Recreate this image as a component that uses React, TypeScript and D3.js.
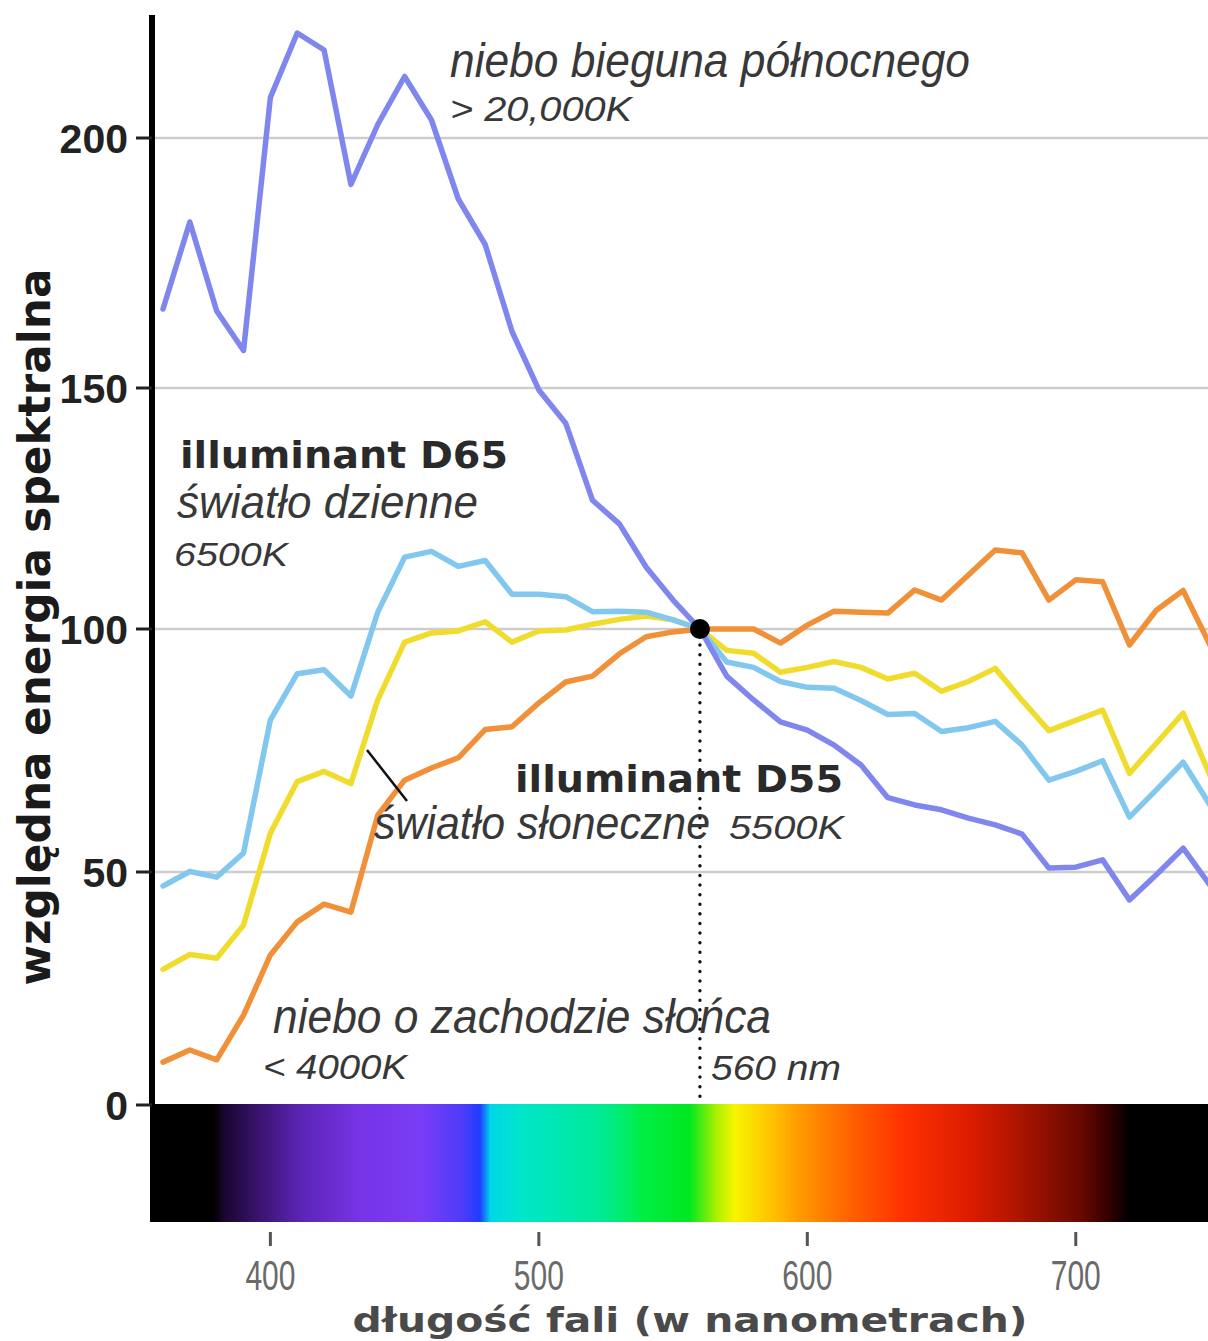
import React from 'react';
import * as d3 from 'd3';

const WAVELENGTHS = [360, 370, 380, 390, 400, 410, 420, 430, 440, 450, 460, 470, 480, 490, 500, 510, 520, 530, 540, 550, 560, 570, 580, 590, 600, 610, 620, 630, 640, 650, 660, 670, 680, 690, 700, 710, 720, 730, 740, 750];

const NORTH_SKY = [165.8, 183.2, 165.4, 157.5, 208.1, 221, 217.6, 190.7, 202.7, 212.3, 203.6, 187.8, 178.7, 161.3, 149.6, 142.7, 126.7, 121.8, 112.8, 106, 100, 90.3, 85.4, 80.9, 79.2, 76.1, 72, 65.3, 63.8, 62.8, 61.1, 59.7, 57.8, 50.8, 51, 52.5, 44, 49.4, 54.9, 47.2];
const D65 = [47, 50.1, 48.9, 53.9, 81.3, 90.8, 91.6, 86.2, 103.5, 114.9, 116.1, 113, 114.2, 107.2, 107.2, 106.7, 103.6, 103.7, 103.5, 101.9, 100, 93.2, 92.1, 89.2, 88, 87.8, 85.3, 82.4, 82.6, 78.9, 79.7, 81, 76.1, 68.9, 70.7, 72.9, 61.3, 66.9, 72.6, 63.8];
const D55 = [29.1, 32.3, 31.5, 38.6, 58, 68.6, 70.7, 68.2, 85.4, 97.3, 99.2, 99.6, 101.5, 97.3, 99.6, 99.8, 101, 102, 102.7, 101.9, 100, 95.6, 95, 91.1, 92.1, 93.3, 92.1, 89.7, 90.9, 87.2, 89.2, 91.9, 85.3, 79.1, 81.2, 83.3, 70.3, 76.5, 82.7, 69.9];
const SUNSET = [9.2, 11.8, 9.7, 19.3, 32.2, 39.3, 43.1, 41.4, 61.7, 68.9, 71.4, 73.5, 79.3, 79.9, 84.8, 89.1, 90.3, 94.9, 98.4, 99.4, 100, 100, 100, 97.1, 100.8, 103.7, 103.5, 103.3, 108.1, 106, 111.2, 116.4, 115.8, 106, 110.2, 109.8, 96.7, 103.9, 108, 96.7];

const Y_TICKS = [0, 50, 100, 150, 200];
const Y_GRID = [50, 100, 150, 200];
const X_TICKS = [400, 500, 600, 700];
const REFERENCE_NM = 560;
const REFERENCE_VALUE = 100;

const SPECTRUM_NM = [379, 383, 396, 411, 433, 456, 472, 478, 482, 493, 523, 538, 556, 566, 573, 586, 597, 616, 635, 661, 683, 702, 713, 720];
const SPECTRUM_COLORS = ['#000000', '#1a0630', '#3a1470', '#5a24b4', '#7634e6', '#7b3cf6', '#4c3cf8', '#1e3cff', '#00d6ea', '#00e6cc', '#00ea96', '#00ee48', '#00e820', '#a8f000', '#f8f400', '#ffc400', '#ff9a00', '#ff6200', '#ff3200', '#dc1c00', '#a01200', '#680800', '#2e0000', '#000000'];

const SERIES = [
  { key: 'sunset', values: SUNSET, color: '#f0913a' },
  { key: 'd55', values: D55, color: '#f0dc2c' },
  { key: 'd65', values: D65, color: '#82c8ee' },
  { key: 'north', values: NORTH_SKY, color: '#7f86ee' },
];

const W = 1208;
const H = 1341;
const AXIS_X = 152;
const BAR_LEFT = 150;
const BAR_TOP = 1104;
const BAR_BOTTOM = 1222;

const BOLD = "'DejaVu Sans', Verdana, sans-serif";
const NARROW = "'Liberation Sans Narrow', 'Liberation Sans', Arial, sans-serif";
const SANS = "'Liberation Sans', Arial, sans-serif";

export default function App() {
  const x = d3.scaleLinear().domain([360, 750]).range([163, 1210]);
  const y = d3.scaleLinear().domain([0, 50, 100, 150, 200]).range([1105, 872, 629, 388, 138]);

  const line = d3
    .line<number>()
    .x((_, i) => x(WAVELENGTHS[i]))
    .y((d) => y(d));

  const barW = W - BAR_LEFT;

  return (
    <svg
      width={W}
      height={H}
      viewBox={`0 0 ${W} ${H}`}
      style={{ position: 'absolute', left: 0, top: 0, background: '#fff' }}
    >
      <defs>
        <clipPath id="plotClip">
          <rect x={AXIS_X + 3} y={0} width={W - AXIS_X - 3} height={BAR_TOP} />
        </clipPath>
        <linearGradient id="spectrum" gradientUnits="userSpaceOnUse" x1={BAR_LEFT} x2={W} y1={0} y2={0}>
          {SPECTRUM_NM.map((nm, i) => (
            <stop key={nm} offset={(x(nm) - BAR_LEFT) / barW} stopColor={SPECTRUM_COLORS[i]} />
          ))}
        </linearGradient>
      </defs>
      <rect x={0} y={0} width={W} height={H} fill="#fff" />

      {Y_GRID.map((v) => (
        <line key={v} x1={AXIS_X} x2={W} y1={y(v)} y2={y(v)} stroke="#cdcdcd" strokeWidth={2.5} />
      ))}

      <rect x={BAR_LEFT} y={BAR_TOP} width={barW} height={BAR_BOTTOM - BAR_TOP} fill="url(#spectrum)" />

      <line
        x1={x(REFERENCE_NM)}
        x2={x(REFERENCE_NM)}
        y1={y(REFERENCE_VALUE) + 16}
        y2={1098}
        stroke="#111"
        strokeWidth={3.4}
        strokeDasharray="0.1 9.5"
        strokeLinecap="round"
      />

      <g clipPath="url(#plotClip)">
        {SERIES.map((s) => (
          <path
            key={s.key}
            d={line(s.values) || ''}
            fill="none"
            stroke={s.color}
            strokeWidth={5.5}
            strokeLinejoin="round"
            strokeLinecap="round"
          />
        ))}
      </g>

      <circle cx={x(REFERENCE_NM)} cy={y(REFERENCE_VALUE)} r={10} fill="#000" />

      <line x1={AXIS_X} x2={AXIS_X} y1={15} y2={BAR_TOP} stroke="#000" strokeWidth={6} />
      {Y_TICKS.map((v) => (
        <g key={v}>
          <line x1={136} x2={AXIS_X} y1={y(v)} y2={y(v)} stroke="#222" strokeWidth={3} />
          <text
            x={128}
            y={y(v) + 15}
            textAnchor="end"
            fontFamily={SANS}
            fontWeight="bold"
            fontSize={41}
            fill="#222"
          >
            {v}
          </text>
        </g>
      ))}
      <text
        transform="translate(50,627) rotate(-90)"
        textAnchor="middle"
        fontFamily={BOLD}
        fontWeight="bold"
        fontSize={45}
        fill="#1a1a1a"
        textLength={717}
        lengthAdjust="spacingAndGlyphs"
      >
        względna energia spektralna
      </text>

      {X_TICKS.map((t) => (
        <g key={t}>
          <line x1={x(t)} x2={x(t)} y1={1232} y2={1246} stroke="#555" strokeWidth={3} />
          <text
            x={x(t)}
            y={1290}
            textAnchor="middle"
            fontFamily={NARROW}
            fontSize={42}
            fill="#6a6a6a"
            textLength={50}
            lengthAdjust="spacingAndGlyphs"
          >
            {t}
          </text>
        </g>
      ))}
      <text
        x={690}
        y={1332}
        textAnchor="middle"
        fontFamily={BOLD}
        fontWeight="bold"
        fontSize={34}
        fill="#4a4a4a"
        textLength={675}
        lengthAdjust="spacingAndGlyphs"
      >
        długość fali (w nanometrach)
      </text>

      <g fontFamily={NARROW} fontStyle="italic" fill="#383838">
        <text x={450} y={77} fontSize={49} textLength={520} lengthAdjust="spacingAndGlyphs">niebo bieguna północnego</text>
        <text x={450} y={121} fontSize={35} textLength={182} lengthAdjust="spacingAndGlyphs">&gt; 20,000K</text>

        <text x={177} y={518} fontSize={46} textLength={301} lengthAdjust="spacingAndGlyphs">światło dzienne</text>
        <text x={174} y={566} fontSize={34} textLength={114} lengthAdjust="spacingAndGlyphs">6500K</text>

        <text x={374} y={839} fontSize={46} textLength={336} lengthAdjust="spacingAndGlyphs">światło słoneczne</text>
        <text x={729} y={839} fontSize={34} textLength={115} lengthAdjust="spacingAndGlyphs">5500K</text>

        <text x={273} y={1033} fontSize={48} textLength={498} lengthAdjust="spacingAndGlyphs">niebo o zachodzie słońca</text>
        <text x={263} y={1079} fontSize={35} textLength={144} lengthAdjust="spacingAndGlyphs">&lt; 4000K</text>
        <text x={711} y={1080} fontSize={35} textLength={130} lengthAdjust="spacingAndGlyphs">560 nm</text>
      </g>
      <g fontFamily={BOLD} fontWeight="bold" fill="#2a2a2a" fontSize={38}>
        <text x={180} y={468} textLength={328} lengthAdjust="spacingAndGlyphs">illuminant D65</text>
        <text x={515} y={792} textLength={328} lengthAdjust="spacingAndGlyphs">illuminant D55</text>
      </g>

      <line x1={367} y1={750} x2={407} y2={801} stroke="#111" strokeWidth={2.5} />
    </svg>
  );
}
